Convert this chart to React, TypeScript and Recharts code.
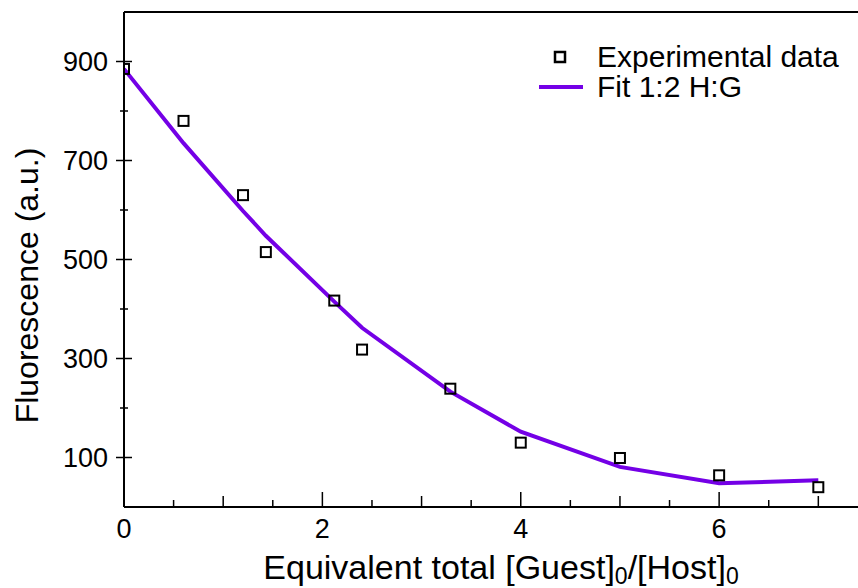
import React from "react";
import {
  ComposedChart,
  Scatter,
  Line,
  XAxis,
  YAxis,
  ReferenceLine,
} from "recharts";

// equivalents of guest added
const equivalents = [0, 0.6, 1.2, 1.43, 2.12, 2.4, 3.29, 4, 5, 6, 7];
const measured = [885, 780, 630, 515, 417, 318, 239, 130, 99, 64, 40];
const fitted = [885, 735, 598, 548, 415, 362, 233, 152, 81, 48, 54];

const xTicks = [0, 0.5, 1, 1.5, 2, 2.5, 3, 3.5, 4, 4.5, 5, 5.5, 6, 6.5, 7];
const xLabels = [0, 2, 4, 6];
const yTicks = [100, 200, 300, 400, 500, 600, 700, 800, 900];
const yLabels = [100, 300, 500, 700, 900];

const FONT = "'Liberation Sans', Arial, Helvetica, sans-serif";
const PURPLE = "#7400e6";

const expData = equivalents.map((x, i) => ({ x, y: measured[i] }));
const fitData = equivalents.map((x, i) => ({ x, y: fitted[i] }));

function Square(props: any) {
  const { cx, cy } = props;
  if (cx == null || cy == null) return null;
  return (
    <rect x={cx - 5} y={cy - 5} width={10} height={10} fill="none" stroke="#000" strokeWidth={2} />
  );
}

function XTick(props: any) {
  const { x, y, payload } = props;
  const v = payload.value;
  const len = v % 2 === 0 ? 15 : Number.isInteger(v) ? 11 : 7;
  return (
    <g>
      <line x1={x} x2={x} y1={y} y2={y - len} stroke="#000" strokeWidth={1.5} />
      {xLabels.includes(v) && (
        <text x={x} y={y + 31} textAnchor="middle" fontSize={27} fontFamily={FONT} fill="#000">
          {v}
        </text>
      )}
    </g>
  );
}

function YTick(props: any) {
  const { x, y, payload } = props;
  const v = payload.value;
  const major = yLabels.includes(v);
  const len = major ? 8 : 4;
  return (
    <g>
      <line x1={x - len} x2={x + len} y1={y} y2={y} stroke="#000" strokeWidth={1.5} />
      {major && (
        <text x={x - 16} y={y + 9} textAnchor="end" fontSize={27} fontFamily={FONT} fill="#000">
          {v}
        </text>
      )}
    </g>
  );
}

function XTitle(props: any) {
  const { viewBox } = props;
  const cx = viewBox.x + viewBox.width / 2 + 10;
  return (
    <text x={cx} y={viewBox.y + 72} textAnchor="middle" fontSize={34} fontFamily={FONT} fill="#000">
      Equivalent total [Guest]
      <tspan fontSize={23} dy={5}>0</tspan>
      <tspan dy={-5}>/[Host]</tspan>
      <tspan fontSize={23} dy={5}>0</tspan>
    </text>
  );
}

function YTitle(props: any) {
  const { viewBox } = props;
  const cy = viewBox.y + viewBox.height / 2 + 26;
  return (
    <text
      x={38}
      y={cy}
      transform={`rotate(-90, 38, ${cy})`}
      textAnchor="middle"
      fontSize={32}
      fontFamily={FONT}
      fill="#000"
    >
      Fluorescence (a.u.)
    </text>
  );
}

function LegendBox() {
  return (
    <div
      style={{
        position: "absolute",
        left: 530,
        top: 42,
        fontFamily: FONT,
        fontSize: 30,
        lineHeight: "30px",
        color: "#000",
      }}
    >
      <div style={{ display: "flex", alignItems: "center", height: 30 }}>
        <svg width={60} height={30}>
          <rect x={25} y={10} width={10} height={10} fill="none" stroke="#000" strokeWidth={2.5} />
        </svg>
        <span style={{ marginLeft: 7 }}>Experimental data</span>
      </div>
      <div style={{ display: "flex", alignItems: "center", height: 30 }}>
        <svg width={60} height={30}>
          <line x1={9} x2={53} y1={15} y2={15} stroke={PURPLE} strokeWidth={4} />
        </svg>
        <span style={{ marginLeft: 7 }}>Fit 1:2 H:G</span>
      </div>
    </div>
  );
}

export default function App() {
  return (
    <div style={{ position: "absolute", left: 0, top: 0, width: 858, height: 588, background: "#fff" }}>
      <ComposedChart width={858} height={588} margin={{ top: 12, right: 0, bottom: 0, left: 0 }}>
        <XAxis
          type="number"
          dataKey="x"
          domain={[0, 7.4]}
          ticks={xTicks}
          interval={0}
          tickSize={0}
          tickMargin={0}
          tickLine={false}
          tick={<XTick />}
          axisLine={{ stroke: "#000", strokeWidth: 2 }}
          height={81}
          allowDataOverflow
          label={<XTitle />}
        />
        <YAxis
          type="number"
          dataKey="y"
          domain={[0, 1000]}
          ticks={yTicks}
          interval={0}
          tickSize={0}
          tickMargin={0}
          tickLine={false}
          tick={<YTick />}
          axisLine={{ stroke: "#000", strokeWidth: 2 }}
          width={124}
          allowDataOverflow
          label={<YTitle />}
        />
        <ReferenceLine y={1000} stroke="#000" strokeWidth={2} />
        <Scatter
          data={expData}
          dataKey="y"
          shape={<Square />}
          isAnimationActive={false}
        />
        <Line
          data={fitData}
          dataKey="y"
          type="linear"
          stroke={PURPLE}
          strokeWidth={4}
          dot={false}
          activeDot={false}
          isAnimationActive={false}
        />
      </ComposedChart>
      <LegendBox />
    </div>
  );
}
